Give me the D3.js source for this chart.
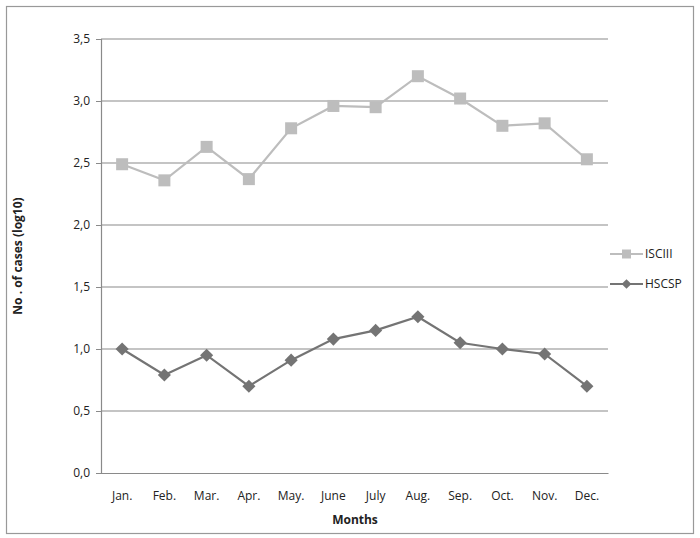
<!DOCTYPE html>
<html>
<head>
<meta charset="utf-8">
<script src="https://cdn.jsdelivr.net/npm/d3@7"></script>
<style>
  body { margin: 0; background: #fff; }
  text { font-family: "Open Sans", sans-serif; fill: #222; }
</style>
</head>
<body>
<svg width="700" height="538"></svg>
<script>
// data
var months = ['Jan.', 'Feb.', 'Mar.', 'Apr.', 'May.', 'June', 'July', 'Aug.', 'Sep.', 'Oct.', 'Nov.', 'Dec.'];
var isciii = [2.49, 2.36, 2.63, 2.37, 2.78, 2.96, 2.95, 3.20, 3.02, 2.80, 2.82, 2.53];
var hscsp = [1.00, 0.79, 0.95, 0.70, 0.91, 1.08, 1.15, 1.26, 1.05, 1.00, 0.96, 0.70];
var yTicks = [0, 0.5, 1.0, 1.5, 2.0, 2.5, 3.0, 3.5];

var svg = d3.select('svg');

// outer frame
svg.append('rect')
    .attr('x', 6.5).attr('y', 6.5)
    .attr('width', 687).attr('height', 527)
    .style('fill', 'none').style('stroke', '#999').style('stroke-width', 1.2);

// plot box (window.top is reserved, so no "top" here)
var plotL = 101, plotR = 608, plotT = 39, plotB = 473;

var x = d3.scaleBand().domain(months).range([plotL, plotR]);
var y = d3.scaleLinear().domain([0, 3.5]).range([plotB, plotT]);
var fmt = function(d) { return d3.format('.1f')(d).replace('.', ','); };

// gridlines
svg.append('g')
    .selectAll('line')
    .data(yTicks.filter(function(d) { return d > 0; }))
    .enter().append('line')
    .attr('x1', plotL).attr('x2', plotR)
    .attr('y1', function(d) { return y(d); })
    .attr('y2', function(d) { return y(d); })
    .style('stroke', '#8a8a8a').style('stroke-width', 1.2);

// y axis
var yAxis = svg.append('g')
    .attr('transform', 'translate(' + plotL + ',0)')
    .call(d3.axisLeft(y).tickValues(yTicks).tickFormat(fmt).tickSize(5).tickPadding(6));
yAxis.select('.domain').style('stroke', '#8a8a8a').style('stroke-width', 1.2);
yAxis.selectAll('.tick line').style('stroke', '#8a8a8a');
yAxis.selectAll('text').style('font-size', '12px').style('fill', '#222').style('font-family', '"Open Sans", sans-serif');

// x axis
var xAxis = svg.append('g')
    .attr('transform', 'translate(0,' + plotB + ')')
    .call(d3.axisBottom(x).tickSize(0).tickPadding(18));
xAxis.select('.domain').style('stroke', '#8a8a8a').style('stroke-width', 1.2);
xAxis.selectAll('text').style('font-size', '12px').style('fill', '#222').style('font-family', '"Open Sans", sans-serif');

// axis titles
svg.append('text')
    .attr('x', 355).attr('y', 524)
    .attr('text-anchor', 'middle')
    .style('font-size', '12px').style('font-weight', 'bold')
    .text('Months');
svg.append('text')
    .attr('transform', 'translate(22,256) rotate(-90)')
    .attr('text-anchor', 'middle')
    .style('font-size', '12px').style('font-weight', 'bold')
    .text('No . of cases (log10)');

var cx = function(d, i) { return x(months[i]) + x.bandwidth() / 2; };
var line = d3.line().x(cx).y(function(d) { return y(d); });

// ISCIII series
svg.append('path').datum(isciii)
    .attr('d', line)
    .style('fill', 'none').style('stroke', '#bdbdbd').style('stroke-width', 2.2);
svg.append('g').selectAll('rect')
    .data(isciii).enter().append('rect')
    .attr('x', function(d, i) { return cx(d, i) - 6; })
    .attr('y', function(d) { return y(d) - 6; })
    .attr('width', 12).attr('height', 12)
    .style('fill', '#bdbdbd');

// HSCSP series
svg.append('path').datum(hscsp)
    .attr('d', line)
    .style('fill', 'none').style('stroke', '#747474').style('stroke-width', 2.2);
var diamond = d3.symbol().type(d3.symbolDiamond2).size(110);
svg.append('g').selectAll('path')
    .data(hscsp).enter().append('path')
    .attr('d', diamond)
    .attr('transform', function(d, i) { return 'translate(' + cx(d, i) + ',' + y(d) + ')'; })
    .style('fill', '#747474');

// legend
var legend = [
    { name: 'ISCIII', color: '#bdbdbd', y: 254, shape: 'square' },
    { name: 'HSCSP', color: '#747474', y: 284, shape: 'diamond' }
];
legend.forEach(function(l) {
    var g = svg.append('g');
    g.append('line')
        .attr('x1', 610).attr('x2', 643)
        .attr('y1', l.y).attr('y2', l.y)
        .style('stroke', l.color).style('stroke-width', 2);
    if (l.shape === 'square') {
        g.append('rect').attr('x', 622).attr('y', l.y - 4.5).attr('width', 9).attr('height', 9).style('fill', l.color);
    } else {
        g.append('path').attr('d', d3.symbol().type(d3.symbolDiamond2).size(60))
            .attr('transform', 'translate(626.5,' + l.y + ')').style('fill', l.color);
    }
    g.append('text')
        .attr('x', 645).attr('y', l.y + 4)
        .style('font-size', '12px')
        .text(l.name);
});
</script>
</body>
</html>
